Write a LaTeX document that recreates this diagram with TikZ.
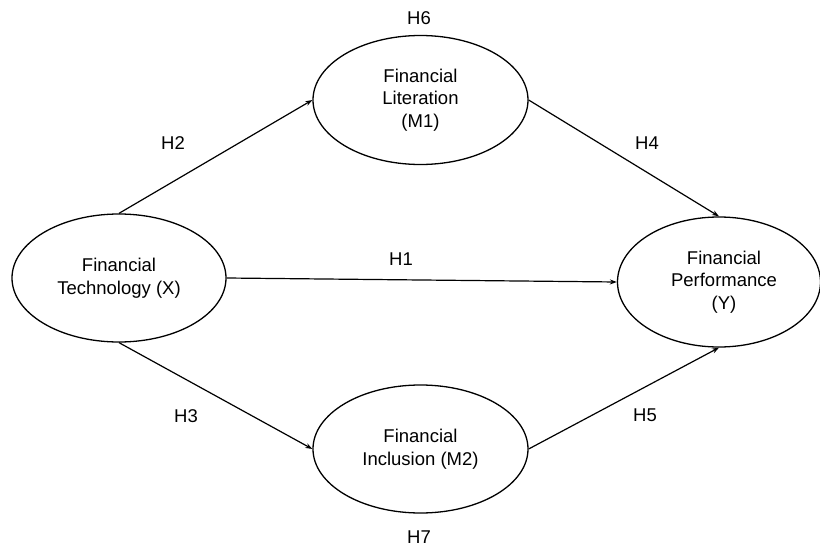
\documentclass[tikz,border=0pt]{standalone}
\usepackage{fontspec}
\setmainfont{Liberation Sans}
\usetikzlibrary{shapes.geometric,arrows.meta}
\begin{document}
\begin{tikzpicture}[x=1pt,y=-1pt,
  var/.style={ellipse,draw,line width=1.3pt,inner sep=0pt,align=center,
    font=\fontsize{18.5}{22.5}\selectfont},
  lbl/.style={font=\fontsize{18.5}{21}\selectfont},
  link/.style={line width=1.2pt,-{Stealth[length=7pt,width=5pt]}}]
\useasboundingbox (0,0) rectangle (820,546);
\node[var,minimum width=214pt,minimum height=128pt] (X) at (119,278) {Financial\\Technology (X)};
\node[var,minimum width=215pt,minimum height=129pt] (M1) at (420.5,100) {Financial\\Literation\\(M1)};
\node[var,minimum width=215pt,minimum height=128pt] (M2) at (420.5,449) {Financial\\Inclusion (M2)};
\node[var,minimum width=203pt,minimum height=130pt] (Y) at (719,282) {\hspace{10pt}Financial\\\hspace{10pt}Performance\\\hspace{10pt}(Y)};
\draw[link] (X.north) -- (M1.west);
\draw[link] (M1.east) -- (Y.north);
\draw[link] (X.east) -- (Y.west);
\draw[link] (X.south) -- (M2.west);
\draw[link] (M2.east) -- (Y.south);
\node[lbl] (h6) at (419,18) {H6};
\node[lbl] (h2) at (173,143) {H2};
\node[lbl] (h4) at (647,143) {H4};
\node[lbl] (h1) at (401,259) {H1};
\node[lbl] (h3) at (186,416) {H3};
\node[lbl] (h5) at (645,415) {H5};
\node[lbl] (h7) at (419,537) {H7};
\end{tikzpicture}
\end{document}
